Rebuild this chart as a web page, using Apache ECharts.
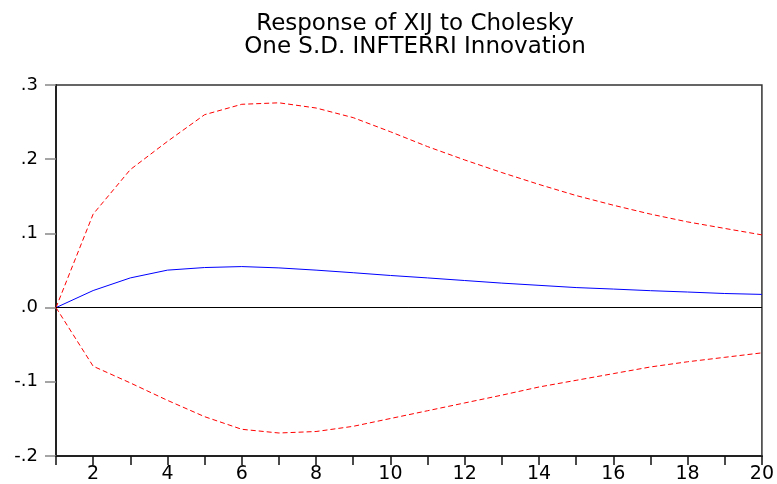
<!DOCTYPE html>
<html>
<head>
<meta charset="utf-8">
<script src="https://cdn.jsdelivr.net/npm/echarts@6/dist/echarts.min.js"></script>
<style>html,body{margin:0;padding:0;background:#fff}#c{width:777px;height:484px}</style>
</head>
<body>
<div id="c"></div>
<script>
var periods = [1,2,3,4,5,6,7,8,9,10,11,12,13,14,15,16,17,18,19,20];
var response = [0,0.023,0.040,0.0505,0.054,0.0553,0.0535,0.0505,0.047,0.0433,0.040,0.0365,0.033,0.030,0.027,0.025,0.0228,0.021,0.019,0.0178];
var upperBand = [0,0.126,0.186,0.224,0.260,0.274,0.276,0.269,0.256,0.237,0.217,0.199,0.182,0.166,0.151,0.138,0.126,0.1155,0.1067,0.098];
var lowerBand = [0,-0.079,-0.1015,-0.125,-0.147,-0.164,-0.169,-0.167,-0.160,-0.1495,-0.139,-0.1285,-0.118,-0.107,-0.098,-0.089,-0.080,-0.073,-0.067,-0.061];
var titleLines = ['Response of XIJ to Cholesky', 'One S.D. INFTERRI Innovation'];

function pairs(vals){ return periods.map(function(p,i){ return [p, vals[i]]; }); }

var chart = echarts.init(document.getElementById('c'));
chart.setOption({
  backgroundColor: '#fff',
  animation: false,
  title: {
    text: titleLines.join('\n'),
    left: 410, top: 8, textAlign: 'center',
    textStyle: { fontFamily: 'DejaVu Sans, sans-serif', fontSize: 23, fontWeight: 'normal', color: '#000', lineHeight: 23 }
  },
  grid: { left: 56, right: 15, top: 85, bottom: 26, show: true, borderColor: '#333', borderWidth: 1.5 },
  xAxis: {
    type: 'value', min: 1, max: 20, interval: 1,
    axisLine: { show: true, onZero: false, lineStyle: { color: '#222', width: 2 } },
    axisTick: { show: true, length: 9, lineStyle: { color: '#111', width: 1.5 } },
    axisLabel: { color: '#000', fontSize: 19, fontFamily: 'DejaVu Sans, sans-serif', margin: 9, showMinLabel: true,
      formatter: function(v){ return v % 2 === 0 ? String(v) : ''; } },
    splitLine: { show: false }
  },
  yAxis: {
    type: 'value', min: -0.2, max: 0.3, interval: 0.1,
    axisLine: { show: true, onZero: false, lineStyle: { color: '#222', width: 2 } },
    axisTick: { show: true, length: 11, lineStyle: { color: '#888', width: 1.5 } },
    axisLabel: { color: '#000', fontSize: 18, fontFamily: 'DejaVu Sans, sans-serif', margin: 18,
      formatter: function(v){ var s = (Math.round(v*10)/10).toFixed(1); return s.replace(/^(-?)0\./, '$1.'); } },
    splitLine: { show: false }
  },
  series: [
    { type: 'line', data: pairs(upperBand), symbol: 'none', lineStyle: { color: '#ff0000', width: 1, type: [5,3] } },
    { type: 'line', data: pairs(lowerBand), symbol: 'none', lineStyle: { color: '#ff0000', width: 1, type: [5,3] } },
    { type: 'line', data: pairs(response), symbol: 'none', lineStyle: { color: '#0000ff', width: 1 }, z: 3,
      markLine: { silent: true, symbol: 'none', label: { show: false }, lineStyle: { color: '#000', width: 1, type: 'solid' }, data: [{ yAxis: 0 }] } }
  ]
});
</script>
</body>
</html>
